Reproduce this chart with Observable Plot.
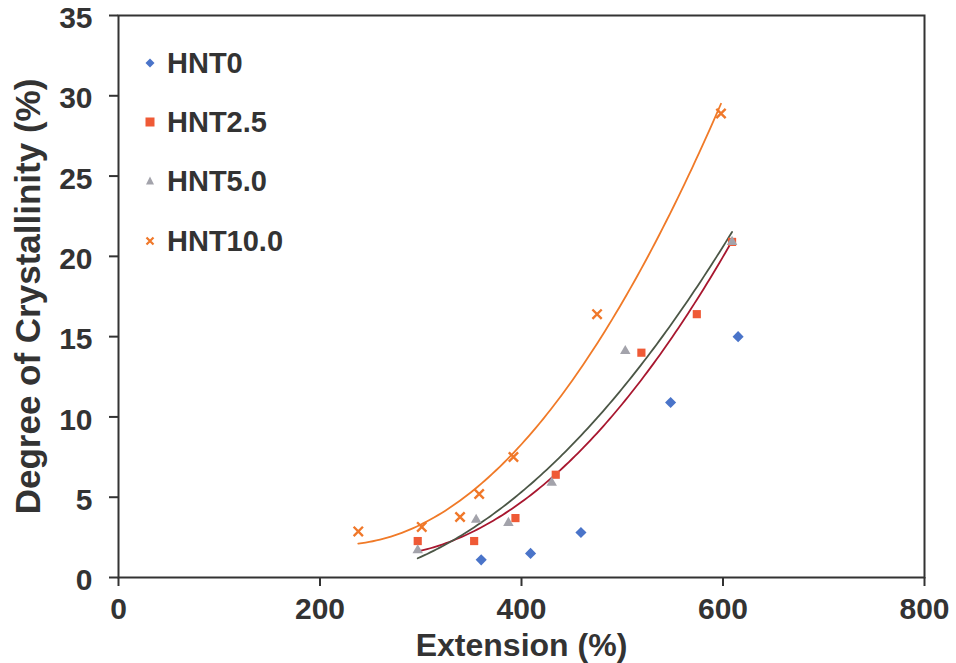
<!DOCTYPE html>
<html>
<head>
<meta charset="utf-8">
<script src="https://cdn.jsdelivr.net/npm/d3@7"></script>
<script src="https://cdn.jsdelivr.net/npm/@observablehq/plot@0.6"></script>
<style>
  html, body { margin: 0; padding: 0; background: #fff; }
  #wrap { position: relative; width: 956px; height: 663px; }
  #legend { position: absolute; left: 142px; top: 0px; font: bold 29px "Liberation Sans", Arial, sans-serif; color: #333; }
  .row { position: absolute; left: 0; height: 30px; display: flex; align-items: center; white-space: nowrap; }
  .row svg { width: 16px; height: 16px; margin-right: 9px; }
</style>
</head>
<body>
<div id="wrap"><div id="legend"></div></div>
<script>
// Series names
const seriesNames = ["HNT0", "HNT2.5", "HNT5.0", "HNT10.0"];
// Data (Extension %, Degree of Crystallinity %)
const hnt0X   = [360, 409, 459, 548, 615];
const hnt0Y   = [1.1, 1.5, 2.8, 10.9, 15.0];
const hnt25X  = [297, 353, 394, 434, 519, 574, 609];
const hnt25Y  = [2.27, 2.27, 3.7, 6.4, 14.0, 16.4, 20.9];
const hnt50X  = [297, 355, 387, 430, 503, 609];
const hnt50Y  = [1.7, 3.6, 3.4, 5.9, 14.1, 20.9];
const hnt100X = [238, 301, 339, 358, 392, 475, 598];
const hnt100Y = [2.87, 3.15, 3.77, 5.2, 7.5, 16.4, 28.9];
// Axis ticks
const xTicks = [0, 200, 400, 600, 800];
const yTicks = [0, 5, 10, 15, 20, 25, 30, 35];

const markerColors = {"HNT0": "#4a74c9", "HNT2.5": "#ef5a36", "HNT5.0": "#a3a3ab", "HNT10.0": "#f0782a"};
const trendColors  = {"HNT2.5": "#a8172f", "HNT5.0": "#4b5646", "HNT10.0": "#f07a28"};
const symbols = {"HNT0": "diamond2", "HNT2.5": "square2", "HNT5.0": "triangle2", "HNT10.0": "times"};
const sizes = {"HNT0": 5, "HNT2.5": 5.2, "HNT5.0": 5, "HNT10.0": 4.3};

const xs = [hnt0X, hnt25X, hnt50X, hnt100X];
const ys = [hnt0Y, hnt25Y, hnt50Y, hnt100Y];
const points = seriesNames.flatMap((s, i) => xs[i].map((x, j) => ({series: s, x, y: ys[i][j]})));

// 2nd-order polynomial trendline (least squares), like the spreadsheet's trendline
function polyFit(X, Y) {
  let S = [0,0,0,0,0], T = [0,0,0];
  X.forEach((x, i) => { for (let k = 0; k < 5; k++) S[k] += x ** k; for (let k = 0; k < 3; k++) T[k] += Y[i] * x ** k; });
  const A = [[S[0], S[1], S[2], T[0]], [S[1], S[2], S[3], T[1]], [S[2], S[3], S[4], T[2]]];
  for (let c = 0; c < 3; c++) {
    for (let r = c + 1; r < 3; r++) { const f = A[r][c] / A[c][c]; for (let k = c; k < 4; k++) A[r][k] -= f * A[c][k]; }
  }
  const b = [0,0,0];
  for (let r = 2; r >= 0; r--) { let s = A[r][3]; for (let k = r + 1; k < 3; k++) s -= A[r][k] * b[k]; b[r] = s / A[r][r]; }
  return b;
}
const trendSeries = ["HNT2.5", "HNT5.0", "HNT10.0"];
const trend = trendSeries.flatMap(s => {
  const i = seriesNames.indexOf(s);
  const b = polyFit(xs[i], ys[i]);
  const [lo, hi] = d3.extent(xs[i]);
  return d3.range(0, 101).map(t => { const x = lo + (hi - lo) * t / 100; return {series: s, x, y: b[0] + b[1] * x + b[2] * x * x}; });
});

const font = '"Liberation Sans", Arial, sans-serif';
const chart = Plot.plot({
  width: 956, height: 663,
  marginLeft: 118, marginRight: 32, marginTop: 15, marginBottom: 86,
  style: {fontFamily: font, fontSize: "30px", fontWeight: "bold", color: "#333", background: "#fff"},
  x: {domain: [0, 800]},
  y: {domain: [0, 35]},
  marks: [
    Plot.frame({stroke: "#333", strokeWidth: 2}),
    Plot.axisX({ticks: xTicks, tickSize: 9, tickPadding: 11, tickFormat: d3.format("d"), label: null, strokeWidth: 2}),
    Plot.axisX({ticks: [], label: "Extension (%)", labelAnchor: "center", labelArrow: "none", labelOffset: 78, fontSize: 32}),
    Plot.axisY({ticks: yTicks, tickSize: 9, tickFormat: () => "", label: null, strokeWidth: 2}),
    Plot.axisY({ticks: yTicks, tickSize: 0, tickPadding: 26, label: null, dy: 3}),
    Plot.axisY({ticks: [], label: "Degree of Crystallinity (%)", labelAnchor: "center", labelArrow: "none", labelOffset: 103, fontSize: 35}),
    Plot.line(trend, {x: "x", y: "y", z: "series", stroke: d => trendColors[d.series], strokeWidth: 1.8, curve: "linear"}),
    Plot.dot(points, {x: "x", y: "y", symbol: d => symbols[d.series], fill: d => d.series === "HNT10.0" ? "none" : markerColors[d.series], stroke: d => d.series === "HNT10.0" ? markerColors[d.series] : "none", strokeWidth: 2.4, r: d => sizes[d.series]})
  ],
  symbol: {type: "identity"},
  r: {type: "identity"}
});
document.getElementById("wrap").prepend(chart);

// Legend (HTML overlay, top-left inside the plot area)
const legend = d3.select("#legend");
const rowTops = [48, 107, 166, 226];
seriesNames.forEach((s, i) => {
  const row = legend.append("div").attr("class", "row").style("top", rowTops[i] + "px");
  const svg = row.append("svg").attr("viewBox", "-8 -8 16 16");
  const c = markerColors[s];
  if (s === "HNT0") svg.append("path").attr("d", "M0,-4.5L4.5,0L0,4.5L-4.5,0Z").attr("fill", c);
  else if (s === "HNT2.5") svg.append("rect").attr("x", -4.5).attr("y", -4.5).attr("width", 9).attr("height", 9).attr("fill", c);
  else if (s === "HNT5.0") svg.append("path").attr("d", "M0,-4.5L4,3.5L-4,3.5Z").attr("fill", c);
  else svg.append("path").attr("d", "M-3.5,-3.5L3.5,3.5M3.5,-3.5L-3.5,3.5").attr("stroke", c).attr("stroke-width", 2.2);
  row.append("span").text(s);
});
</script>
</body>
</html>
